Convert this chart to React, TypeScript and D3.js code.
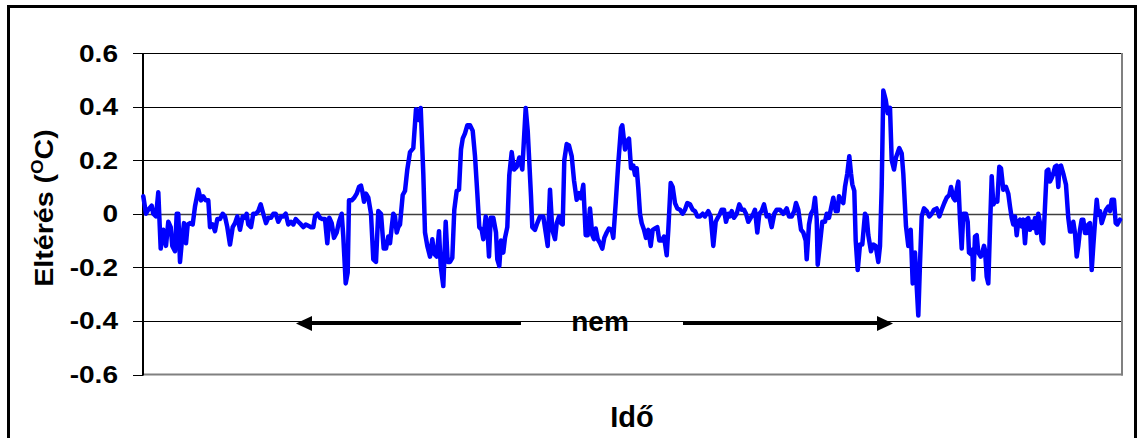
import React from "react";
import * as d3 from "d3";

// Time index (sample position along the record) and temperature deviation (°C)
const readings: [number, number][] = [
  [0.3, 0.065], [3, 0.0], [5.3, 0.015], [8.7, 0.03], [10.3, 0.0], [13, -0.01], [15.3, 0.08], [17.7, -0.13],
  [20.3, -0.06], [23, -0.12], [25.3, -0.03], [27.7, -0.05], [29.3, -0.12], [32, -0.14], [33.7, 0.0], [35.3, 0.0],
  [37, -0.18], [38.7, -0.11], [41, -0.035], [43, -0.11], [44.7, -0.04], [47, -0.035], [49.7, -0.04], [52, 0.027],
  [55.3, 0.09], [58, 0.05], [60.3, 0.065], [62.7, 0.05], [65.3, 0.05], [67, -0.05], [69.7, -0.04], [72, -0.065],
  [74.3, -0.02], [77, -0.02], [79.7, 0], [82, -0.01], [84.3, -0.05], [87, -0.115], [89.7, -0.05], [92, -0.035],
  [94.3, -0.01], [97, -0.06], [99.7, -0.01], [102, -0.015], [103.7, 0], [105.3, -0.04], [108, -0.05], [110.3, 0],
  [113, 0], [115.3, 0.01], [117.7, 0.035], [120.3, 0], [123, -0.035], [125.3, -0.015],
  [128, -0.015], [130.3, 0], [132.7, 0], [135.3, -0.03], [138, -0.01], [140.3, -0.01], [142.7, 0], [145.3, -0.04],
  [148, -0.03], [150.3, -0.04], [152.7, -0.02], [155.3, -0.03], [158, -0.04], [160.3, -0.05], [162.7, -0.04],
  [165.3, -0.045], [168, -0.05], [170.3, -0.05], [172, -0.01], [174.7, 0], [177, -0.015], [179.3, -0.02],
  [182, -0.02], [184.3, -0.11], [186.3, -0.015], [188.7, -0.035], [191, -0.09], [193.7, -0.07], [196, -0.03],
  [198.7, 0], [200.3, -0.085], [202.7, -0.26], [204.7, -0.22], [206, 0.05], [208.7, 0.05], [211.3, 0.06],
  [213.7, 0.075], [216, 0.1], [218, 0.105], [219.5, 0.08], [221, 0.045], [223, 0.075], [225.3, 0.06], [228, 0],
  [230.3, -0.17], [233, -0.18], [235.3, 0.01], [238, 0], [240.7, -0.13], [243, -0.13], [245.3, -0.085],
  [247, -0.11], [248.7, -0.05], [250.3, 0], [252, -0.01], [253.7, -0.07], [255.3, -0.05], [257, -0.04],
  [259.7, 0.07], [262, 0.085], [264.3, 0.165], [267, 0.23], [270.3, 0.245], [273, 0.39], [275.3, 0.35],
  [277.7, 0.395], [280.3, 0.15], [282, -0.07], [284.3, -0.12], [287, -0.16], [289.3, -0.095], [291.3, -0.15],
  [293.7, -0.16], [296, -0.065], [297.7, -0.195], [300.3, -0.27], [302.7, -0.03], [304.7, -0.18], [307, -0.18],
  [309.3, -0.165], [311.3, 0.015], [313.7, 0.085], [316, 0.09], [318, 0.24], [319.7, 0.28], [322, 0.3],
  [324.3, 0.33], [327, 0.33], [329.7, 0.31], [332, 0.215], [334.3, 0.077], [336.3, -0.05], [338.7, -0.06],
  [340.3, -0.095], [342.7, -0.01], [344.3, -0.05], [346, -0.16], [347.7, -0.015], [350.3, -0.015], [353, -0.07],
  [354.3, -0.17], [356.3, -0.195], [358, -0.1], [360.3, -0.145], [362, -0.09], [364.3, -0.05], [366.3, 0.145],
  [368.7, 0.23], [371, 0.165], [373.7, 0.175], [376.3, 0.21],
  [379.3, 0.165], [382.7, 0.395], [384.7, 0.31], [386, 0.215], [388, 0.065], [389.3, -0.05], [392, -0.06],
  [394.3, -0.035], [397, -0.01], [400.3, -0.01], [402.7, -0.07], [404.7, -0.12], [407, 0.09], [409.3, -0.06],
  [412, -0.095], [413.7, -0.035], [416, -0.01], [418, -0.035], [419.7, -0.04], [421.3, 0.2], [423.7, 0.26],
  [426, 0.255], [428.7, 0.215], [431, 0.125], [433.7, 0.052], [436, 0.077], [438, 0.058], [440.3, 0.108],
  [442.7, -0.08], [444.7, -0.08], [447, 0.02], [449.3, -0.08], [451, -0.095], [452.7, -0.055], [454.7, -0.095],
  [457, -0.11], [459.3, -0.13], [461.3, -0.09], [463.7, -0.07], [466, -0.055], [468.7, -0.06], [470.3, -0.09],
  [472.7, 0.04], [475.3, 0.19], [478, 0.32], [479.3, 0.33], [482, 0.24], [483.7, 0.27], [486, 0.28],
  [488, 0.17], [490.3, 0.18], [492, 0.145], [493.7, 0.17], [495.3, 0.095], [497, 0], [498.7, -0.035], [501, -0.06],
  [503, -0.09], [505.3, -0.06], [507.7, -0.12], [509.7, -0.06], [512, -0.055], [514.3, -0.05], [516.3, -0.1],
  [518.7, -0.1], [521, -0.085], [523.7, -0.155], [525.3, -0.06], [527.7, 0.115], [529.7, 0.1], [532, 0.04],
  [534.3, 0.02], [537, 0.015], [539.7, 0], [542, 0.015], [544.3, 0.04], [547, 0.035], [549.7, 0.015],
  [552, 0.01], [554.3, -0.01], [557, -0.01], [559.7, 0], [562, -0.01], [565.3, 0.01], [567.7, -0.01],
  [570.3, -0.12], [572.7, -0.03], [574.7, -0.015], [577, 0], [578.7, 0.015], [581, 0.015], [583, -0.03],
  [585.3, 0], [587, -0.01], [588.7, 0.01], [591, -0.015], [593.7, 0], [596.3, 0.035], [598.7, 0.015],
  [601, 0.015], [603, 0], [605.3, -0.03], [607.7, -0.015], [610.3, 0], [612, 0.015], [614.3, -0.07], [616.3, 0],
  [618.7, 0.01], [621, 0.035],
  [623.7, -0.01], [626, -0.005], [628.7, -0.05], [631.3, 0], [633.7, 0.015], [637, 0.015], [640.3, 0],
  [643.7, 0.02], [646, -0.01], [648.7, -0.01], [651.3, 0.01], [653, 0.04], [655.3, 0.015], [658, -0.06],
  [660.3, -0.07], [662.7, -0.1], [663.7, -0.17], [666, -0.04], [668, 0], [670.3, 0.015], [672, 0.06],
  [673.7, -0.02], [674.7, -0.19], [677, -0.11], [679.3, -0.03], [682, -0.03], [683.7, 0], [686, -0.015],
  [688, 0.02], [690.3, 0.06], [692.7, 0.01], [694.7, 0.01], [696, 0.065], [698, 0.05], [700.3, 0.04],
  [702, 0.1], [704.3, 0.15], [706.3, 0.215], [708, 0.15], [709.3, 0.11], [711.3, 0.085], [712.7, -0.1],
  [714.7, -0.21], [717, -0.115], [719.3, -0.115], [722, 0], [723.7, -0.01], [725.3, -0.08], [728, -0.14],
  [730.3, -0.115], [732.7, -0.12], [735.3, -0.18], [737, -0.12], [738.7, 0.1], [740.3, 0.46], [742.7, 0.425],
  [744.7, 0.375], [747, 0.395],
  [748.7, 0.2], [751, 0.165], [753, 0.21], [756.3, 0.245], [758.7, 0.225], [760.3, 0.15], [763, -0.047],
  [765.3, -0.12], [767.7, -0.06], [769.7, -0.26], [772, -0.145], [773.7, -0.27], [775.3, -0.38], [777, -0.185],
  [778.7, -0.01], [781, 0.02], [783.7, 0.01], [786.3, -0.01], [788.7, 0], [791, 0.015], [793.7, 0.02],
  [796.3, -0.01], [798.7, 0.015], [801.3, 0.04], [803.7, 0.06], [806.3, 0.07], [808, 0.1], [810.3, 0.06],
  [812, 0.05], [813.7, 0.09], [815.3, 0.12], [817, -0.02], [818.7, -0.13], [820.3, 0], [823, 0], [824.7, -0.03],
  [826, -0.145], [827.7, -0.15], [829.3, -0.135], [830.3, -0.245], [832, -0.085], [833.7, -0.08], [835.3, -0.145],
  [837.7, -0.16], [839.3, -0.145], [841, -0.12], [842, -0.135], [843.7, -0.235], [845.3, -0.26], [847, -0.055],
  [848.7, 0.14], [850.3, 0.035], [853, 0.05], [854.3, 0.045], [856.3, 0.175], [858, 0.17],
  [860.3, 0.09], [863, 0.1], [865.3, 0.075], [867, 0.027], [868.7, -0.016], [870.3, -0.04], [872, -0.01],
  [873.7, -0.08], [875.3, -0.03], [877, -0.022], [878.7, -0.047], [880.3, -0.022], [882, -0.11], [883.7, -0.022],
  [885.3, -0.016], [887, -0.06], [888.7, -0.03], [890.3, -0.053], [892, -0.016], [893.7, -0.072], [895.3, 0],
  [897, -0.035], [898.7, -0.1], [900.3, -0.11], [902, 0.027], [903.7, 0.16], [905.3, 0.165], [907, 0.12],
  [908.7, 0.133], [910.3, 0.15], [912, 0.175], [913.7, 0.18], [915.3, 0.1], [916.3, 0.175], [918, 0.18],
  [920.3, 0.15], [923, 0.108], [925.3, -0.016], [927, -0.066], [928.7, -0.066], [930.3, -0.03], [932, -0.072],
  [933.7, -0.16], [935.3, -0.12], [937, -0.06], [938.7, -0.022], [940.3, -0.022], [942, -0.072], [943.7, -0.072],
  [945.3, -0.04], [947, -0.035], [948.7, -0.21], [950.3, -0.12], [952, -0.03], [953.7, 0.052], [955.3, -0.004],
  [957, 0.01], [958.7, -0.035], [960.3, -0.016], [963, 0.015], [965.3, 0.027], [967, 0.01], [968.7, 0.052],
  [971, 0.052], [972.7, -0.035], [974.3, -0.04], [977, -0.022],
];

const timeDomain: [number, number] = [0, 979];
const yTicks = [0.6, 0.4, 0.2, 0, -0.2, -0.4, -0.6];
const yTickLabels = ["0.6", "0.4", "0.2", "0", "-0.2", "-0.4", "-0.6"];

// "nem" annotation: two arrows (time index from / to) at a deviation level
const annotationLevel = -0.41;
const leftArrow: [number, number] = [378, 153];
const rightArrow: [number, number] = [540, 750];
const annotationText = "nem";
const annotationAt = 457;

const xTitle = "Idő";

const W = 1137;
const H = 438;
const M = { left: 143, right: 1122, top: 53, bottom: 374.5 };
const FONT = "'Liberation Sans', Arial, Helvetica, sans-serif";

export default function App() {
  const x = d3.scaleLinear().domain(timeDomain).range([M.left, M.right]);
  const y = d3.scaleLinear().domain([-0.6, 0.6]).range([M.bottom, M.top]);
  const line = d3
    .line<[number, number]>()
    .x((d) => x(d[0]))
    .y((d) => y(d[1]));

  const ay = y(annotationLevel);
  const head = (tip: number, dir: number) => {
    const tx = x(tip);
    return `${tx},${ay} ${tx - dir * 16},${ay - 7.5} ${tx - dir * 16},${ay + 7.5}`;
  };

  return (
    <svg
      width={W}
      height={H}
      style={{ position: "absolute", left: 0, top: 0, background: "#fff" }}
      fontFamily={FONT}
    >
      <rect x={0} y={0} width={W} height={H} fill="#fff" />
      {/* outer chart border */}
      <rect x={8.5} y={6.5} width={1127} height={440} fill="none" stroke="#000" strokeWidth={3} />

      {/* gridlines */}
      {yTicks
        .filter((t) => t !== -0.6)
        .map((t) => (
          <line
            key={"g" + t}
            x1={M.left}
            x2={M.right}
            y1={Math.round(y(t)) + 0.5}
            y2={Math.round(y(t)) + 0.5}
            stroke={t === 0 ? "#404040" : "#000"}
            strokeWidth={t === 0 ? 1.5 : 1}
          />
        ))}
      {/* plot area border right & bottom */}
      <line x1={M.right} x2={M.right} y1={M.top} y2={M.bottom + 1} stroke="#808080" strokeWidth={2} />
      <line x1={M.left} x2={M.right + 1} y1={M.bottom} y2={M.bottom} stroke="#808080" strokeWidth={2} />

      {/* y axis */}
      <line x1={M.left} x2={M.left} y1={M.top} y2={M.bottom + 1} stroke="#000" strokeWidth={2} />
      {yTicks.map((t, i) => (
        <g key={"t" + t}>
          <line
            x1={M.left - 10}
            x2={M.left}
            y1={Math.round(y(t)) + 0.5}
            y2={Math.round(y(t)) + 0.5}
            stroke="#000"
            strokeWidth={1}
          />
          <text
            transform={`translate(118,${y(t) + 8.5}) scale(1.22,1)`}
            textAnchor="end"
            fontSize={23}
            fontWeight="bold"
            fill="#000"
          >
            {yTickLabels[i]}
          </text>
        </g>
      ))}

      {/* data line */}
      <path
        d={line(readings) || ""}
        fill="none"
        stroke="#0000FF"
        strokeWidth={4.5}
        strokeLinejoin="round"
        strokeLinecap="round"
      />

      {/* annotation arrows */}
      <line x1={x(leftArrow[0])} x2={x(leftArrow[1]) + 12} y1={ay} y2={ay} stroke="#000" strokeWidth={3} />
      <polygon points={head(leftArrow[1], -1)} fill="#000" />
      <line x1={x(rightArrow[0])} x2={x(rightArrow[1]) - 12} y1={ay} y2={ay} stroke="#000" strokeWidth={3} />
      <polygon points={head(rightArrow[1], 1)} fill="#000" />
      <text x={x(annotationAt)} y={ay + 7} textAnchor="middle" fontSize={28} fontWeight="bold" fill="#000">
        {annotationText}
      </text>

      {/* axis titles */}
      <text x={632} y={427} textAnchor="middle" fontSize={29} fontWeight="bold" fill="#000">
        {xTitle}
      </text>
      <text
        transform={`translate(53,208) rotate(-90) scale(1.1,1)`}
        textAnchor="middle"
        fontSize={26}
        fontWeight="bold"
        fill="#000"
      >
        Eltérés (<tspan fontSize={17} dy={-10}>O</tspan>
        <tspan dy={10}>C)</tspan>
      </text>
    </svg>
  );
}
